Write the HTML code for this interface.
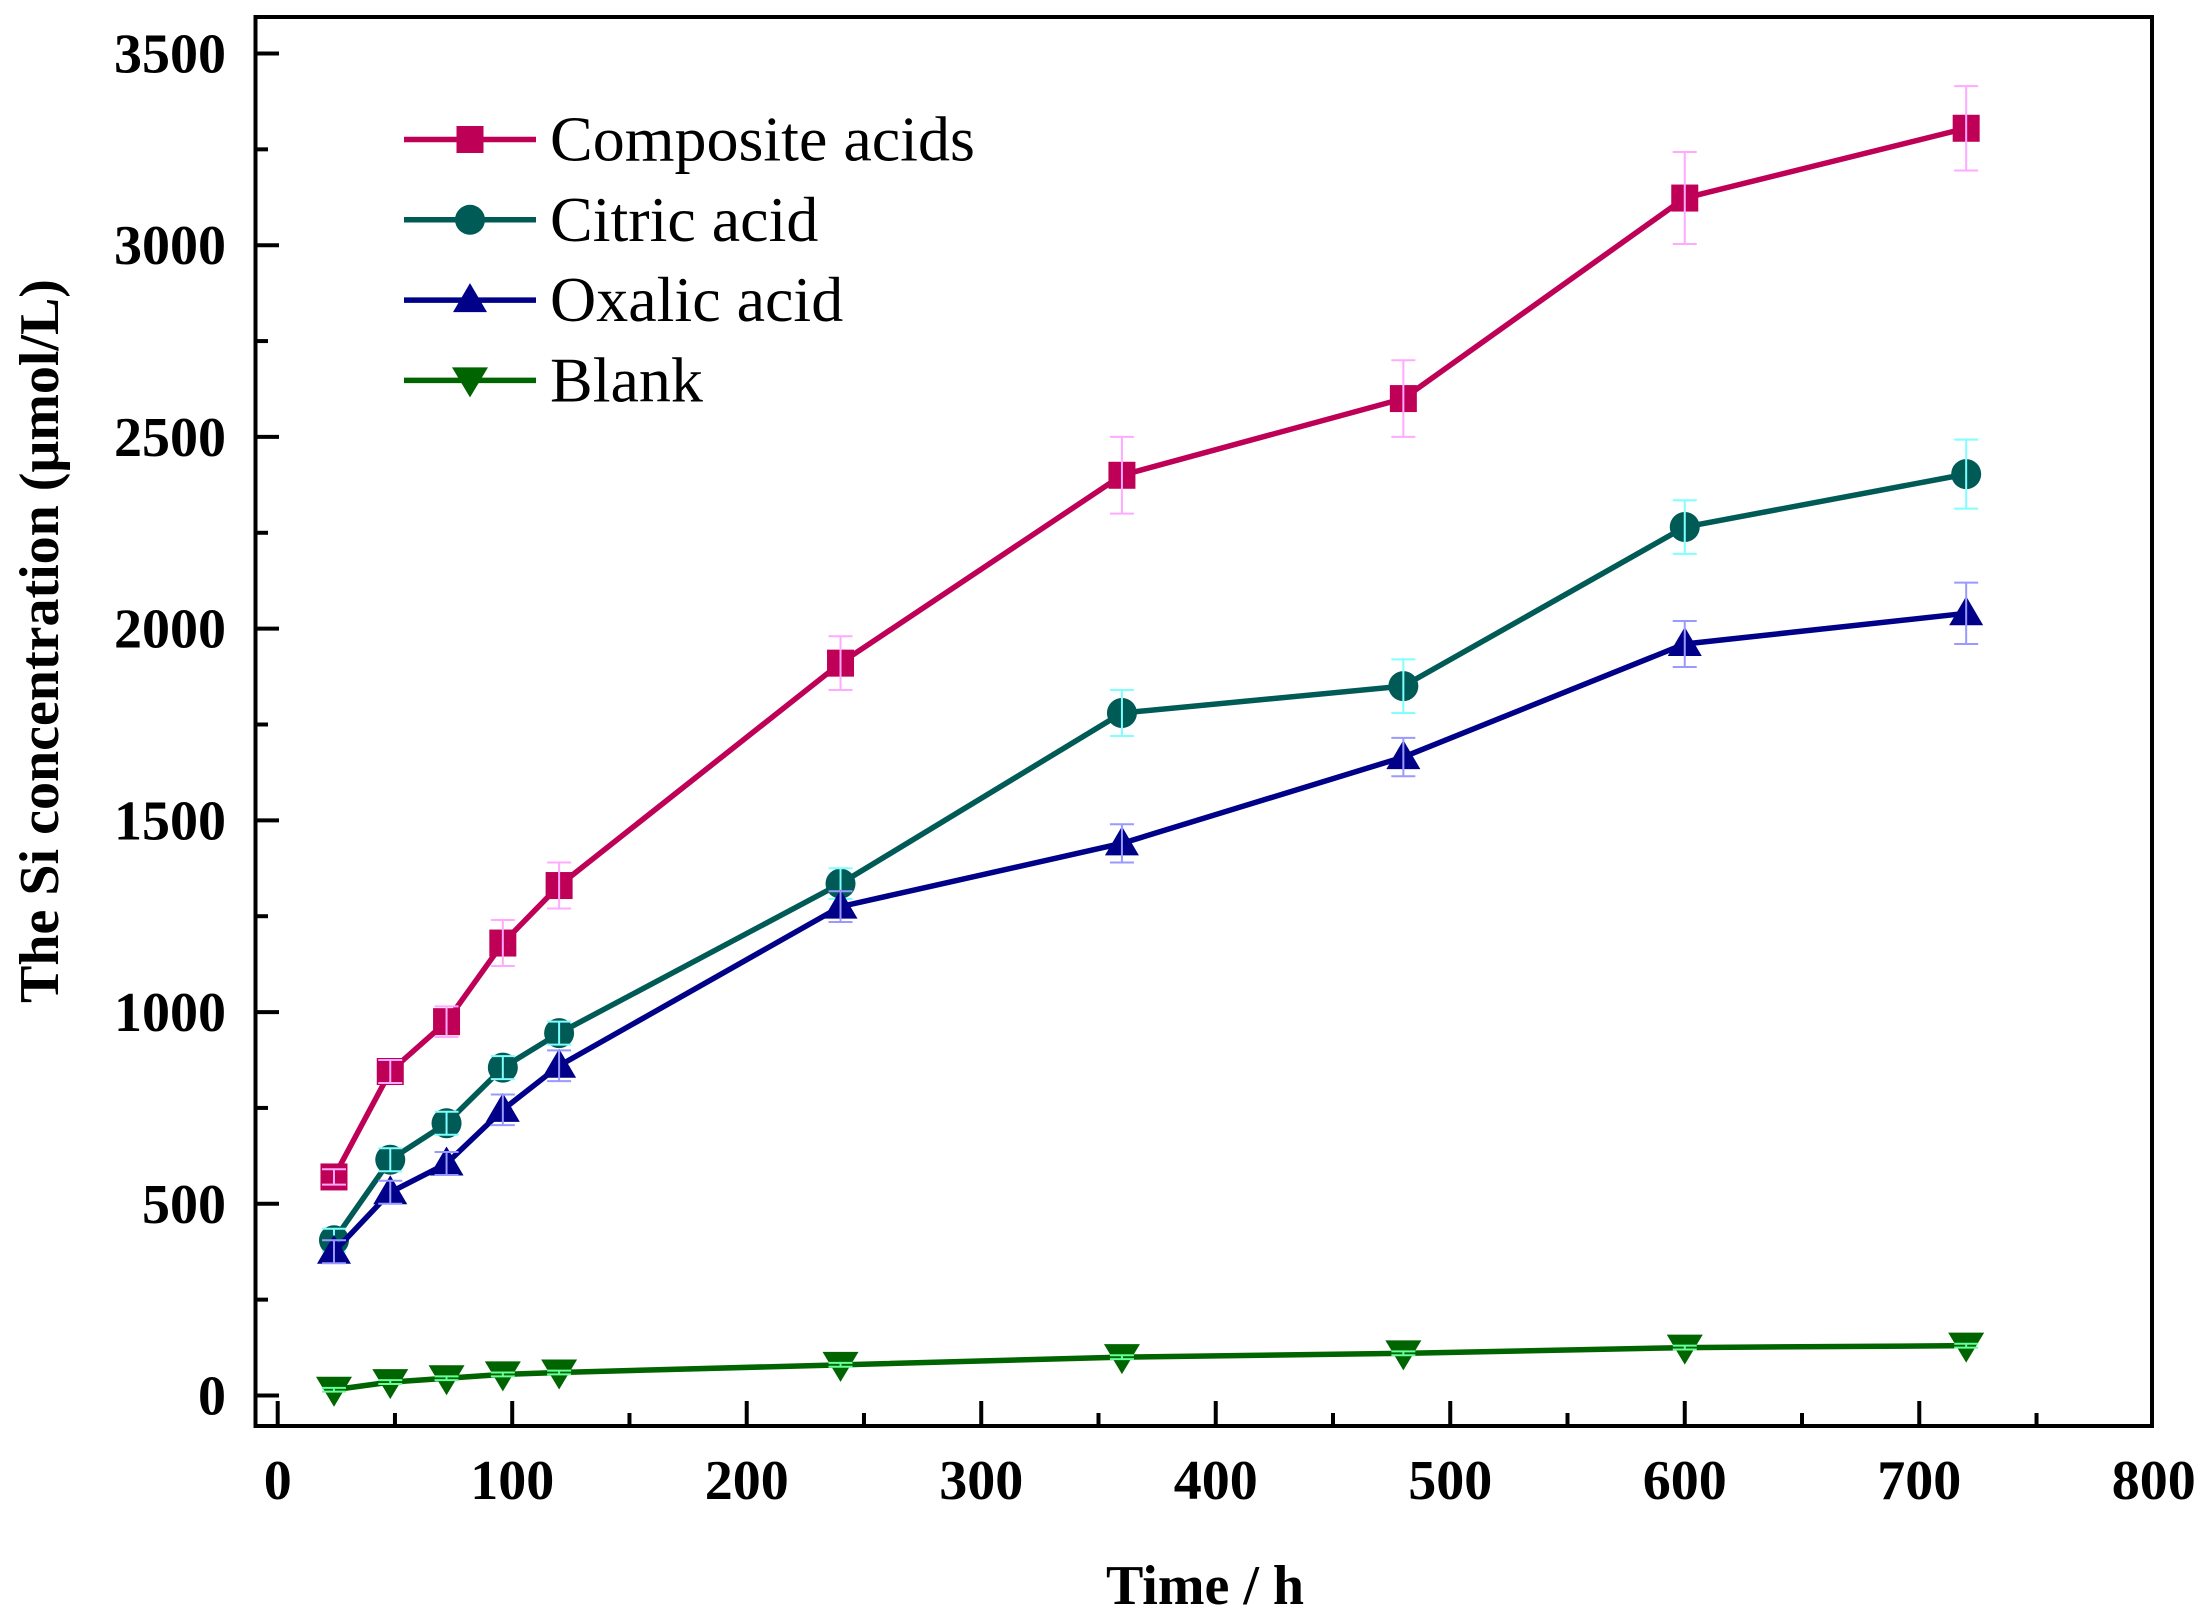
<!DOCTYPE html>
<html><head><meta charset="utf-8">
<style>html,body{margin:0;padding:0;background:#fff}svg{display:block}</style>
</head><body>
<svg id="s" width="2210" height="1622" viewBox="0 0 2210 1622" xmlns="http://www.w3.org/2000/svg">
<rect width="2210" height="1622" fill="#fff"/>
<g id="plot"></g>
<g font-family="Liberation Serif, serif" font-weight="bold" font-size="56" fill="#000">
<text x="1205" y="1604" text-anchor="middle">Time / h</text>
<text transform="translate(58,641) rotate(-90)" text-anchor="middle">The Si concentration (μmol/L)</text>
</g>
</svg>
<script>
var NS="http://www.w3.org/2000/svg",g=document.getElementById('plot');
function el(t,a,txt){var e=document.createElementNS(NS,t);for(var k in a)e.setAttribute(k,a[k]);if(txt!=null)e.textContent=txt;g.appendChild(e);return e;}
function X(v){return 277.7+v*2.3451;}
function Y(v){return 1395.5-v*0.38343;}
var xs=[24,48,72,96,120,240,360,480,600,720];
var S=[
{n:'Composite acids',c:'#be0056',e:'#ffaaff',m:'sq',y:[570,845,975,1180,1330,1910,2400,2600,3123,3305],er:[20,30,40,60,60,70,100,100,120,110]},
{n:'Citric acid',c:'#005a55',e:'#80ffff',m:'ci',y:[405,615,710,855,945,1335,1780,1850,2265,2403],er:[30,30,30,30,30,40,60,70,70,90]},
{n:'Oxalic acid',c:'#000088',e:'#9999ff',m:'tu',y:[375,530,605,745,860,1275,1440,1665,1960,2040],er:[30,30,30,40,40,40,50,50,60,80]},
{n:'Blank',c:'#006400',e:'#66ff99',m:'td',y:[15,35,45,55,60,80,100,110,125,130],er:[5,5,5,5,5,5,5,5,5,5]}
];
function marker(t,x,y,c){
 if(t=='sq')el('rect',{x:x-13.5,y:y-13.5,width:27,height:27,fill:c});
 else if(t=='ci')el('circle',{cx:x,cy:y,r:15,fill:c});
 else if(t=='tu')el('polygon',{points:(x)+','+(y-17)+' '+(x-17)+','+(y+12)+' '+(x+17)+','+(y+12),fill:c});
 else el('polygon',{points:(x)+','+(y+17)+' '+(x-18)+','+(y-13)+' '+(x+18)+','+(y-13),fill:c});
}
S.forEach(function(s){
 var p=xs.map(function(x,i){return X(x)+','+Y(s.y[i]);}).join(' ');
 el('polyline',{points:p,fill:'none',stroke:s.c,'stroke-width':5.5,'stroke-linejoin':'round'});
 xs.forEach(function(x,i){
  var cx=X(x),t=Y(s.y[i]+s.er[i]),b=Y(s.y[i]-s.er[i]);
  marker(s.m,cx,Y(s.y[i]),s.c);
  el('line',{x1:cx,y1:t,x2:cx,y2:b,stroke:s.e,'stroke-width':2});
  el('line',{x1:cx-12,y1:t,x2:cx+12,y2:t,stroke:s.e,'stroke-width':2});
  el('line',{x1:cx-12,y1:b,x2:cx+12,y2:b,stroke:s.e,'stroke-width':2});
 });
});
S.forEach(function(s,i){
 var y=139.5+i*80.3;
 el('line',{x1:404,y1:y,x2:536,y2:y,stroke:s.c,'stroke-width':5.5});
 marker(s.m,470,y,s.c);
 el('text',{x:550,y:y+21,'font-family':'Liberation Serif, serif','font-size':'64',fill:'#000'},s.n);
});
el('rect',{x:255.5,y:17,width:1896.5,height:1409,fill:'none',stroke:'#000','stroke-width':4});
for(var v=0;v<=3500;v+=250){var y=Y(v),maj=v%500==0;el('line',{x1:257,y1:y,x2:257+(maj?22:11),y2:y,stroke:'#000','stroke-width':4});
 if(maj)el('text',{x:226,y:y+19,'text-anchor':'end','font-family':'Liberation Serif, serif','font-weight':'bold','font-size':'56',fill:'#000'},String(v));}
for(var v=0;v<=750;v+=50){var x=X(v),maj=v%100==0;el('line',{x1:x,y1:1425,x2:x,y2:1425-(maj?24:12),stroke:'#000','stroke-width':4});}
for(var v=0;v<=800;v+=100){el('text',{x:X(v),y:1499,'text-anchor':'middle','font-family':'Liberation Serif, serif','font-weight':'bold','font-size':'56',fill:'#000'},String(v));}
</script>
</body></html>
